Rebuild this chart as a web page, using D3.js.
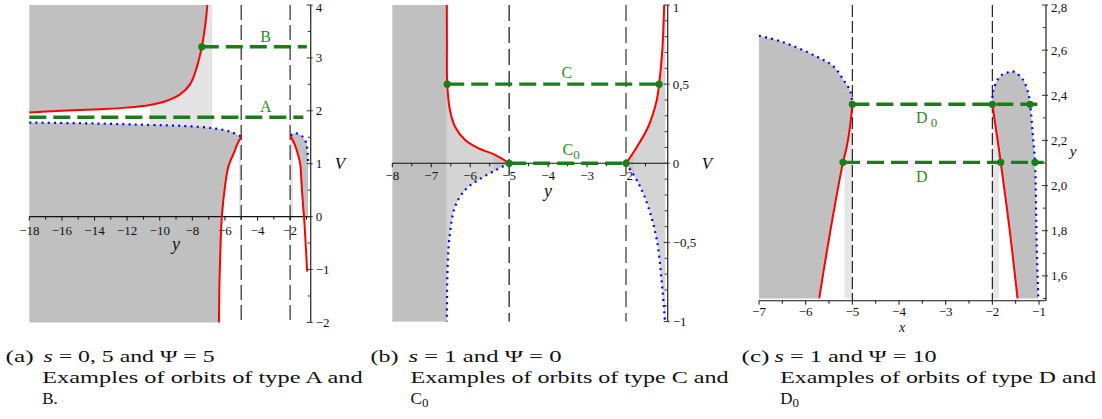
<!DOCTYPE html>
<html>
<head>
<meta charset="utf-8">
<script src="https://cdn.jsdelivr.net/npm/d3@7"></script>
<style>
  body { margin: 0; background: #fff; }
  svg { display: block; }
</style>
</head>
<body>
<svg id="fig" width="1102" height="419"></svg>
<script>
// ---------- shared ----------
const asymptotes = [-5, -2];

// ---------- panel (a): s = 0,5 and Psi = 5 ----------
const aYDomain = [-18, -0.74];
const aVDomain = [-2, 4];
const aXTickLabels = [-18, -16, -14, -12, -10, -8, -6, -4, -2];
const aXMinorTicks = [-17, -15, -13, -11, -9, -7, -5, -3, -1];
const aVTickLabels = [-2, -1, 0, 1, 2, 3, 4];
const aVMinorTicks = [-1.5, -0.5, 0.5, 1.5, 2.5, 3.5];
const aRedUpper = [[-18, 1.966], [-15.7, 2.005], [-13.66, 2.03], [-12.0, 2.06], [-10.6, 2.11], [-9.57, 2.19],
                   [-8.75, 2.31], [-8.14, 2.5], [-7.73, 2.82], [-7.42, 3.21], [-7.22, 3.59], [-7.08, 4.0]];
const aBlueUpper = [[-18, 1.777], [-14, 1.76], [-10.6, 1.733], [-8.44, 1.712], [-6.77, 1.671], [-5.69, 1.607], [-5, 1.51]];
const aRedLower = [[-5, 1.51], [-5.2, 1.4], [-5.42, 1.23], [-5.79, 0.945], [-6.0, 0.567], [-6.19, 0],
                   [-6.28, -0.63], [-6.34, -1.3], [-6.37, -2]];
const aRedRight = [[-1.97, 1.52], [-1.8, 1.42], [-1.6, 1.26], [-1.39, 1.01], [-1.29, 0.57], [-1.19, 0.13],
                   [-1.15, 0], [-1.04, -0.57], [-0.96, -1.04]];
const aBlueRight = [[-1.97, 1.53], [-1.82, 1.57], [-1.67, 1.577], [-1.36, 1.545], [-1.16, 1.48], [-1.01, 1.39],
                    [-0.95, 1.26], [-0.92, 1.13], [-0.9, 1.0]];
const aLightBand = [-10.6, -6.77];
const aStrips = [[-5.13, -5], [-2, -1.82]];
const aOrbits = [
  { name: 'A', v: 1.879, from: -18, to: -1.19, dots: [], label: [-3.5, 1.985] },
  { name: 'B', v: 3.21, from: -7.42, to: -0.98, dots: [-7.42], label: [-3.5, 3.308] }
];

// ---------- panel (b): s = 1 and Psi = 0 ----------
const bYDomain = [-8, -0.93];
const bVDomain = [-1, 1];
const bXTickLabels = [-8, -7, -6, -5, -4, -3, -2];
const bXMinorTicks = [-7.5, -6.5, -5.5, -4.5, -3.5, -2.5, -1.5];
const bVTickLabels = [-1, -0.5, 0, 0.5, 1];
const bVMinorTicks = [-0.9, -0.8, -0.7, -0.6, -0.4, -0.3, -0.2, -0.1, 0.1, 0.2, 0.3, 0.4, 0.6, 0.7, 0.8, 0.9];
const bRedLeft = [[-6.6, 1.0], [-6.598, 0.75], [-6.59, 0.5], [-6.52, 0.335], [-6.39, 0.231], [-6.13, 0.147],
                  [-5.79, 0.095], [-5.36, 0.053], [-5, 0]];
const bBlueLeft = [[-5, 0], [-5.36, -0.045], [-5.79, -0.105], [-6.13, -0.168], [-6.39, -0.274], [-6.52, -0.442],
                   [-6.58, -0.653], [-6.6, -1]];
const bRedRight = [[-2, 0], [-1.77, 0.084], [-1.43, 0.231], [-1.21, 0.4], [-1.15, 0.5], [-1.07, 0.71], [-1.02, 1.0]];
const bBlueRight = [[-2, 0], [-1.68, -0.126], [-1.43, -0.274], [-1.21, -0.484], [-1.08, -0.758], [-1.0, -1]];
const bDarkBand = [-8, -6.6];
const bRightEdge = -0.99;
const bStrips = [[-5.4, -5], [-2, -1.8]];
const bOrbits = [
  { name: 'C', v: 0.5, from: -6.59, to: -1.15, dots: [-6.59, -1.15], label: [-3.52, 0.537] },
  { name: 'C', sub: '0', v: 0, from: -5, to: -2, dots: [-5, -2], label: [-3.41, 0.052] }
];

// ---------- panel (c): s = 1 and Psi = 10 ----------
const cXDomain = [-7, -0.85];
const cYDomain = [1.49, 2.8];
const cFloor = 1.5;
const cXTickLabels = [-7, -6, -5, -4, -3, -2, -1];
const cXMinorTicks = [-6.5, -5.5, -4.5, -3.5, -2.5, -1.5];
const cYTickLabels = [1.6, 1.8, 2.0, 2.2, 2.4, 2.6, 2.8];
const cYMinorTicks = [1.5, 1.7, 1.9, 2.1, 2.3, 2.5, 2.7];
const cBlueLeft = [[-7, 2.664], [-6.48, 2.635], [-5.76, 2.571], [-5.4, 2.527], [-5.19, 2.468], [-5.04, 2.416], [-5, 2.36]];
const cRedLeft = [[-5, 2.36], [-5.05, 2.26], [-5.12, 2.172], [-5.2, 2.103], [-5.48, 1.789], [-5.71, 1.5]];
const cRedRight = [[-2, 2.36], [-1.907, 2.23], [-1.82, 2.103], [-1.62, 1.789], [-1.46, 1.5]];
const cBlueRight = [[-2, 2.36], [-1.976, 2.424], [-1.836, 2.483], [-1.69, 2.5], [-1.545, 2.505], [-1.34, 2.468],
                    [-1.23, 2.409], [-1.19, 2.36], [-1.135, 2.23], [-1.086, 2.103], [-1.05, 1.74], [-1.015, 1.5]];
const cStrips = [[-5.17, -5], [-2, -1.857]];
const cOrbits = [
  { name: 'D', sub: ' 0', v: 2.36, from: -5, to: -0.9, dots: [-5, -2, -1.19], label: [-3.41, 2.276] },
  { name: 'D', v: 2.103, from: -5.2, to: -0.9, dots: [-5.2, -1.82, -1.086], label: [-3.51, 2.017] }
];

// ---------- styles ----------
const SERIF = 'Liberation Serif, Times New Roman, DejaVu Serif, serif';
const RED = '#ff0000', BLUE = '#0000ff', GREEN = '#1a7d1a', LABEL_GREEN = '#2a8c2a';
const DARK = '#c0c0c0';

const locale = d3.formatLocale({ decimal: ',', thousands: ' ', grouping: [3], currency: ['', ''], minus: '\u2212' });
const fmtInt = locale.format('d');
const fmtTrim = locale.format('~g');
const fmtOne = locale.format('.1f');

const svg = d3.select('#fig');

// ---------- helpers ----------
const lineGen = (x, y) => d3.line().x(d => x(d[0])).y(d => y(d[1])).curve(d3.curveCatmullRom.alpha(0.5));
const regionPath = (ln, segs) => segs.map((s, i) => i ? ln(s).replace(/^M/, 'L') : ln(s)).join('') + 'Z';

function fillRegion(g, ln, segs, color) {
  g.append('path').attr('d', regionPath(ln, segs)).attr('fill', color).attr('stroke', 'none');
}
function fillRect(g, x, y, x0, x1, v0, v1, color) {
  g.append('rect')
    .attr('x', x(x0)).attr('width', x(x1) - x(x0))
    .attr('y', y(v1)).attr('height', y(v0) - y(v1))
    .attr('fill', color);
}
function drawCurve(g, ln, pts, kind) {
  const p = g.append('path').attr('d', ln(pts)).attr('fill', 'none');
  if (kind === 'red') p.attr('stroke', RED).attr('stroke-width', 2);
  else p.attr('stroke', BLUE).attr('stroke-width', 2.2).attr('stroke-dasharray', '2,4.2');
}
function drawAsymptotes(g, x, y, colors, width, dash) {
  asymptotes.forEach((a, i) => {
    g.append('line')
      .attr('x1', x(a)).attr('x2', x(a))
      .attr('y1', y.range()[1]).attr('y2', y.range()[0])
      .attr('stroke', colors[i]).attr('stroke-width', width[i]).attr('stroke-dasharray', dash);
  });
}
function hAxis(g, x, yPix, majors, minors, fmt, labelY) {
  g.append('line').attr('x1', x.range()[0]).attr('x2', x.range()[1]).attr('y1', yPix).attr('y2', yPix)
    .attr('stroke', '#111').attr('stroke-width', 1.1);
  g.selectAll(null).data(minors).join('line')
    .attr('x1', d => x(d)).attr('x2', d => x(d)).attr('y1', yPix).attr('y2', yPix + 3)
    .attr('stroke', '#111').attr('stroke-width', 1);
  g.selectAll(null).data(majors).join('line')
    .attr('x1', d => x(d)).attr('x2', d => x(d)).attr('y1', yPix).attr('y2', yPix + 4)
    .attr('stroke', '#111').attr('stroke-width', 1);
  g.selectAll(null).data(majors).join('text')
    .attr('x', d => x(d)).attr('y', labelY).attr('text-anchor', 'middle')
    .attr('font-family', SERIF).attr('font-size', 13).attr('fill', '#111')
    .text(fmt);
}
function vAxis(g, xPix, y, majors, minors, fmt) {
  g.append('line').attr('x1', xPix).attr('x2', xPix).attr('y1', y.range()[1]).attr('y2', y.range()[0])
    .attr('stroke', '#333').attr('stroke-width', 1.3);
  g.selectAll(null).data(minors).join('line')
    .attr('x1', xPix - 3).attr('x2', xPix).attr('y1', d => y(d)).attr('y2', d => y(d))
    .attr('stroke', '#333').attr('stroke-width', 1);
  g.selectAll(null).data(majors).join('line')
    .attr('x1', xPix - 4).attr('x2', xPix + 2).attr('y1', d => y(d)).attr('y2', d => y(d))
    .attr('stroke', '#333').attr('stroke-width', 1);
  g.selectAll(null).data(majors).join('text')
    .attr('x', xPix + 5).attr('y', d => Math.max(y(d) + 4.5, 12)).attr('text-anchor', 'start')
    .attr('font-family', SERIF).attr('font-size', 13).attr('fill', '#111')
    .text(fmt);
}
function axisTitle(g, px, py, txt, size) {
  g.append('text').attr('x', px).attr('y', py).attr('text-anchor', 'middle')
    .attr('font-family', SERIF).attr('font-style', 'italic').attr('font-size', size).attr('fill', '#111')
    .text(txt);
}
function drawOrbits(g, x, y, orbits) {
  orbits.forEach(o => {
    g.append('line')
      .attr('x1', x(o.from)).attr('x2', x(o.to)).attr('y1', y(o.v)).attr('y2', y(o.v))
      .attr('stroke', GREEN).attr('stroke-width', 3.4).attr('stroke-dasharray', '17,7');
  });
  orbits.forEach(o => {
    g.selectAll(null).data(o.dots).join('circle')
      .attr('cx', d => x(d)).attr('cy', y(o.v)).attr('r', 3.6).attr('fill', GREEN);
    const t = g.append('text')
      .attr('x', x(o.label[0])).attr('y', y(o.label[1])).attr('text-anchor', 'middle')
      .attr('font-family', SERIF).attr('font-size', 16).attr('fill', LABEL_GREEN);
    t.append('tspan').text(o.name);
    if (o.sub) t.append('tspan').attr('dy', 4).attr('font-size', 13).text(o.sub);
  });
}

// ================= panel (a) =================
{
  const g = svg.append('g');
  const x = d3.scaleLinear().domain(aYDomain).range([29.3, 310.7]);
  const y = d3.scaleLinear().domain(aVDomain).range([322.4, 5]);
  const ln = lineGen(x, y);
  const [yMin, yMax] = aYDomain, [vMin, vMax] = aVDomain;

  fillRect(g, x, y, aLightBand[0], aLightBand[1], 1.6, vMax, '#e4e4e4');
  aStrips.forEach(s => fillRect(g, x, y, s[0], s[1], 0, 1.5, '#e4e4e4'));

  const redTop = aRedUpper[aRedUpper.length - 1];
  fillRegion(g, ln, [[[yMin, vMax], aRedUpper[0]], aRedUpper, [redTop, [redTop[0], vMax]], [[redTop[0], vMax], [yMin, vMax]]], DARK);
  const lowEnd = aRedLower[aRedLower.length - 1];
  fillRegion(g, ln, [aBlueUpper, aRedLower, [lowEnd, [yMin, vMin]]], DARK);
  const redAbove = aRedRight.filter(d => d[1] >= 0);
  const edge = aBlueRight[aBlueRight.length - 1];
  fillRegion(g, ln, [redAbove, [redAbove[redAbove.length - 1], [edge[0], 0]], [[edge[0], 0], edge], aBlueRight.slice().reverse()], DARK);

  drawAsymptotes(g, x, y, ['#555', '#555'], [1.5, 1.5], '15,5');
  hAxis(g, x, y(0), aXTickLabels, aXMinorTicks, fmtInt, 235);
  vAxis(g, x(yMax), y, aVTickLabels, aVMinorTicks, fmtInt);
  axisTitle(g, 176, 250, 'y', 18);
  axisTitle(g, 340, 169, 'V', 17);

  drawCurve(g, ln, aBlueUpper, 'blue');
  drawCurve(g, ln, aBlueRight, 'blue');
  drawCurve(g, ln, aRedUpper, 'red');
  drawCurve(g, ln, aRedLower, 'red');
  drawCurve(g, ln, aRedRight, 'red');
  drawOrbits(g, x, y, aOrbits);
}

// ================= panel (b) =================
{
  const g = svg.append('g');
  const x = d3.scaleLinear().domain(bYDomain).range([392.3, 667.7]);
  const y = d3.scaleLinear().domain(bVDomain).range([321.6, 5]);
  const ln = lineGen(x, y);
  const [vMin, vMax] = bVDomain;

  fillRect(g, x, y, bDarkBand[0], bDarkBand[1], vMin, vMax, DARK);

  const leftSegs = [bRedLeft, bBlueLeft];
  const rightSegs = [bRedRight, [bRedRight[bRedRight.length - 1], [bRightEdge, vMax]],
                     [[bRightEdge, vMax], [bRightEdge, vMin]], [[bRightEdge, vMin], bBlueRight[bBlueRight.length - 1]],
                     bBlueRight.slice().reverse()];
  const light = '#d4d4d4', medium = '#c7c7c7';
  fillRegion(g, ln, leftSegs, light);
  fillRegion(g, ln, rightSegs, light);

  const defs = svg.append('defs');
  defs.append('clipPath').attr('id', 'clip-b-left').append('path').attr('d', regionPath(ln, leftSegs));
  defs.append('clipPath').attr('id', 'clip-b-right').append('path').attr('d', regionPath(ln, rightSegs));
  const s0 = g.append('g').attr('clip-path', 'url(#clip-b-left)');
  fillRect(s0, x, y, bStrips[0][0], bStrips[0][1], vMin, vMax, medium);
  const s1 = g.append('g').attr('clip-path', 'url(#clip-b-right)');
  fillRect(s1, x, y, bStrips[1][0], bStrips[1][1], vMin, vMax, medium);

  drawAsymptotes(g, x, y, ['#111', '#777'], [1.2, 1.8], '16,6');
  hAxis(g, x, y(0), bXTickLabels, bXMinorTicks, fmtInt, 180);
  vAxis(g, x(bYDomain[1]), y, bVTickLabels, bVMinorTicks, fmtTrim);
  axisTitle(g, 548, 197, 'y', 18);
  axisTitle(g, 707, 169, 'V', 17);

  drawCurve(g, ln, bBlueLeft, 'blue');
  drawCurve(g, ln, bBlueRight, 'blue');
  drawCurve(g, ln, bRedLeft, 'red');
  drawCurve(g, ln, bRedRight, 'red');
  drawOrbits(g, x, y, bOrbits);
}

// ================= panel (c) =================
{
  const g = svg.append('g');
  const x = d3.scaleLinear().domain(cXDomain).range([759, 1046]);
  const y = d3.scaleLinear().domain(cYDomain).range([300.7, 5]);
  const ln = lineGen(x, y);
  const xMin = cXDomain[0];

  cStrips.forEach(s => fillRect(g, x, y, s[0], s[1], cFloor, 2.36, '#e6e6e6'));

  const redLeftEnd = cRedLeft[cRedLeft.length - 1];
  fillRegion(g, ln, [cBlueLeft, cRedLeft, [redLeftEnd, [xMin, cFloor]]], DARK);
  const redRightEnd = cRedRight[cRedRight.length - 1];
  fillRegion(g, ln, [cRedRight, [redRightEnd, cBlueRight[cBlueRight.length - 1]], cBlueRight.slice().reverse()], DARK);

  drawAsymptotes(g, x, y, ['#111', '#111'], [1.1, 1.1], '12,4');
  hAxis(g, x, y(cYDomain[0]), cXTickLabels, cXMinorTicks, fmtInt, 316);
  vAxis(g, x(cXDomain[1]), y, cYTickLabels, cYMinorTicks, fmtOne);
  axisTitle(g, 902, 332, 'x', 14);
  axisTitle(g, 1073, 156, 'y', 15);

  drawCurve(g, ln, cBlueLeft, 'blue');
  drawCurve(g, ln, cBlueRight, 'blue');
  drawCurve(g, ln, cRedLeft, 'red');
  drawCurve(g, ln, cRedRight, 'red');
  drawOrbits(g, x, y, cOrbits);
}

// ================= captions =================
const captions = [
  { tag: '(a)', tagX: 5.6, textX: 43.6, w1: 171, eq: [' = 0, 5 and \u03A8 = 5'], line2: 'Examples of orbits of type A and', x2: 42.2, w2: 320.5, line3: ['B.', null] },
  { tag: '(b)', tagX: 370.4, textX: 408.5, w1: 153, eq: [' = 1 and \u03A8 = 0'], line2: 'Examples of orbits of type C and', x2: 410.6, w2: 318, line3: ['C', '0'] },
  { tag: '(c)', tagX: 741.5, textX: 774.6, w1: 162, eq: [' = 1 and \u03A8 = 10'], line2: 'Examples of orbits of type D and', x2: 780.3, w2: 316, line3: ['D', '0'] }
];
const capBase = [362, 383, 404];
captions.forEach(c => {
  const g = svg.append('g').attr('font-family', SERIF).attr('font-size', 17).attr('fill', '#111');
  g.append('text').attr('x', c.tagX).attr('y', capBase[0]).attr('textLength', 28).attr('lengthAdjust', 'spacingAndGlyphs').text(c.tag);
  const t1 = g.append('text').attr('x', c.textX).attr('y', capBase[0])
    .attr('textLength', c.w1).attr('lengthAdjust', 'spacingAndGlyphs');
  t1.append('tspan').attr('font-style', 'italic').text('s');
  t1.append('tspan').text(c.eq[0]);
  g.append('text').attr('x', c.x2).attr('y', capBase[1])
    .attr('textLength', c.w2).attr('lengthAdjust', 'spacingAndGlyphs').text(c.line2);
  const t3 = g.append('text').attr('x', c.x2).attr('y', capBase[2]);
  t3.append('tspan').text(c.line3[0]);
  if (c.line3[1]) t3.append('tspan').attr('dy', 3).attr('font-size', 13).text(c.line3[1]);
});
</script>
</body>
</html>
